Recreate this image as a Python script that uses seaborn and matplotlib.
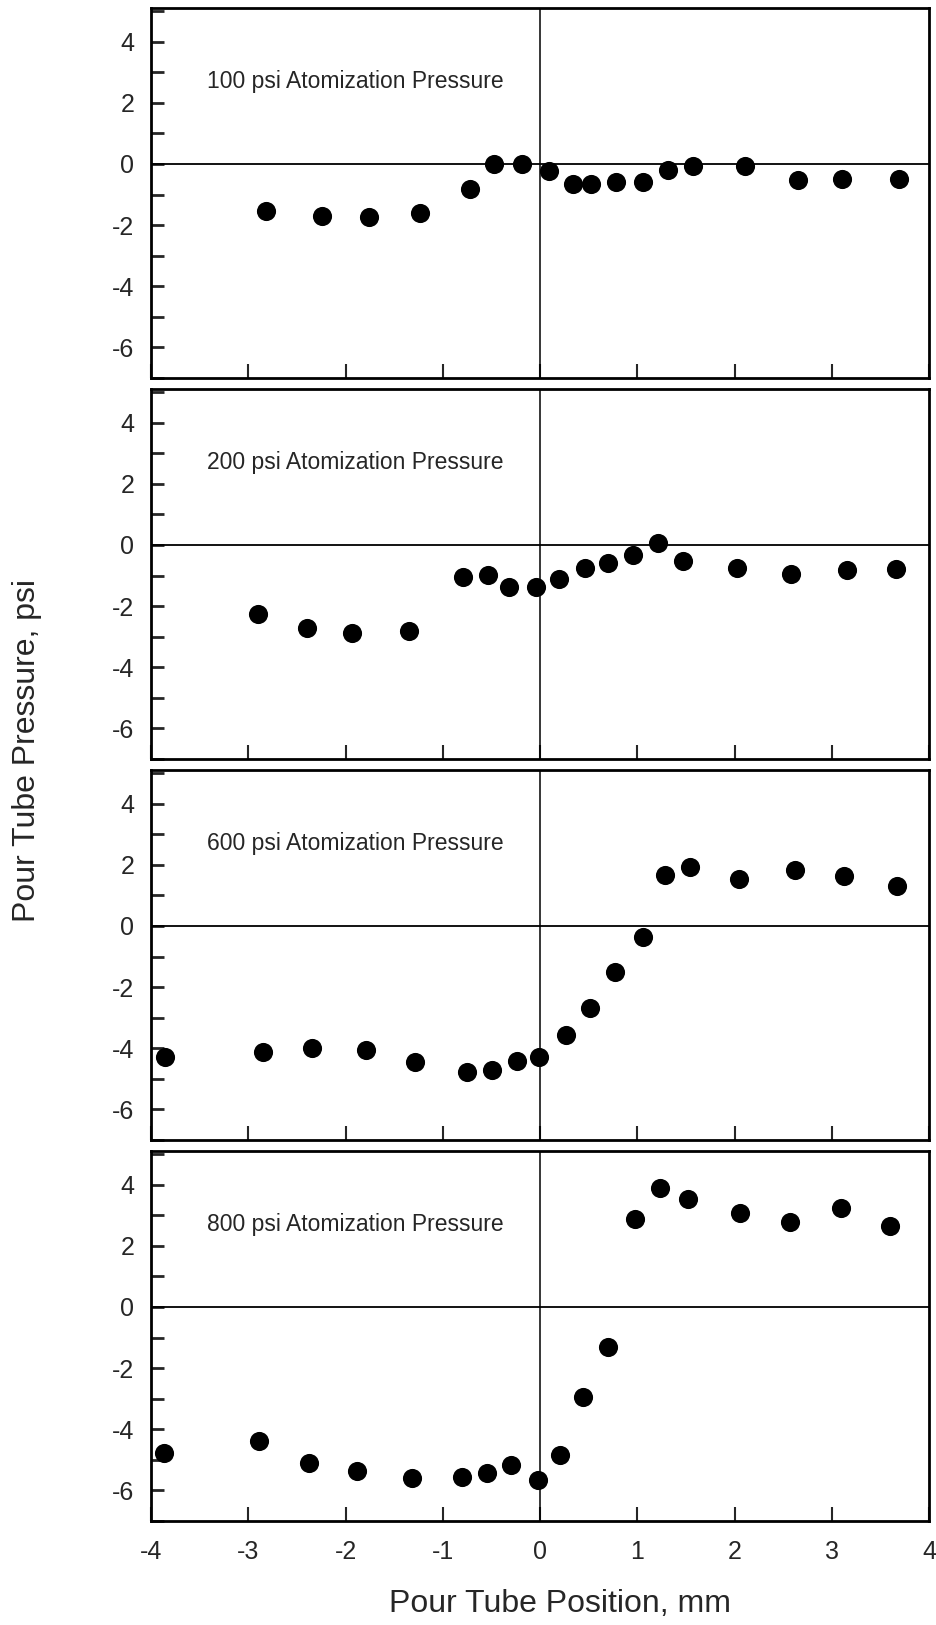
import matplotlib
matplotlib.use("Agg")
import matplotlib.pyplot as plt
import seaborn as sns
import pandas as pd
import numpy as np
from matplotlib.ticker import MultipleLocator

sns.set_style("white")
plt.rcParams['font.family'] = ['Liberation Sans', 'DejaVu Sans']
plt.rcParams['axes.unicode_minus'] = False

panel_labels = ["100 psi Atomization Pressure", "200 psi Atomization Pressure",
                "600 psi Atomization Pressure", "800 psi Atomization Pressure"]

x100 = [-2.82, -2.24, -1.76, -1.23, -0.72, -0.47, -0.19, 0.09, 0.34, 0.52, 0.78, 1.06, 1.32, 1.57, 2.11, 2.65, 3.11, 3.69]
y100 = [-1.55, -1.69, -1.73, -1.60, -0.81, 0.0, 0.0, -0.23, -0.67, -0.67, -0.60, -0.60, -0.21, -0.08, -0.08, -0.54, -0.49, -0.49]

x200 = [-2.90, -2.40, -1.93, -1.35, -0.79, -0.53, -0.32, -0.04, 0.20, 0.46, 0.70, 0.96, 1.21, 1.47, 2.03, 2.58, 3.16, 3.66]
y200 = [-2.25, -2.70, -2.88, -2.82, -1.05, -0.97, -1.36, -1.39, -1.12, -0.74, -0.60, -0.33, 0.08, -0.54, -0.74, -0.95, -0.83, -0.80]

x600 = [-3.86, -2.85, -2.34, -1.79, -1.29, -0.75, -0.49, -0.24, -0.01, 0.27, 0.51, 0.77, 1.06, 1.29, 1.54, 2.05, 2.62, 3.13, 3.67]
y600 = [-4.30, -4.12, -4.00, -4.07, -4.45, -4.78, -4.70, -4.42, -4.27, -3.58, -2.67, -1.50, -0.35, 1.65, 1.92, 1.55, 1.84, 1.62, 1.30]

x800 = [-3.87, -2.89, -2.38, -1.88, -1.32, -0.80, -0.54, -0.30, -0.02, 0.21, 0.44, 0.70, 0.98, 1.23, 1.52, 2.06, 2.57, 3.10, 3.60]
y800 = [-4.78, -4.40, -5.10, -5.38, -5.58, -5.55, -5.44, -5.16, -5.66, -4.83, -2.93, -1.32, 2.88, 3.90, 3.52, 3.07, 2.77, 3.25, 2.66]

series = [(x100, y100), (x200, y200), (x600, y600), (x800, y800)]

x_ticks = [-4, -3, -2, -1, 0, 1, 2, 3, 4]
y_ticks = [-6, -4, -2, 0, 2, 4]

W, H = 936, 1625
fig = plt.figure(figsize=(W / 100, H / 100), dpi=100)

left, right = 151, 929
top0 = 8
ph, gap = 370, 11

axes = []
for i, (lab, (xs, ys)) in enumerate(zip(panel_labels, series)):
    t = top0 + i * (ph + gap)
    ax = fig.add_axes([left / W, 1 - (t + ph) / H, (right - left) / W, ph / H])
    df = pd.DataFrame({"x": xs, "y": ys})
    ax.axhline(0, color="black", lw=1.3, zorder=1)
    ax.axvline(0, color="black", lw=1.1, zorder=1)
    sns.scatterplot(data=df, x="x", y="y", ax=ax, color="black", s=190,
                    edgecolor="black", linewidth=0, zorder=3, legend=False)
    ax.set_xlim(-4, 4)
    ax.set_ylim(-7, 5.1)
    ax.set_xticks(x_ticks)
    ax.set_yticks(y_ticks)
    ax.yaxis.set_minor_locator(MultipleLocator(1))
    ax.tick_params(axis="y", which="both", direction="in", length=9, width=2,
                   left=True, right=False, labelsize=18, pad=12)
    ax.tick_params(axis="x", which="both", direction="in", length=10, width=1.5,
                   bottom=True, top=False, labelsize=18, pad=14)
    if i < 3:
        ax.tick_params(axis="x", labelbottom=False)
    for sp in ax.spines.values():
        sp.set_linewidth(2)
        sp.set_color("black")
    ax.set_xlabel("")
    ax.set_ylabel("")
    ax.text(-3.42, 2.7, lab, fontsize=16.5, ha="left", va="center")
    axes.append(ax)

fig.text(27 / W, 1 - 751 / H, "Pour Tube Pressure, psi", rotation=90,
         ha="center", va="center", fontsize=23)
fig.text(560 / W, 1 - 1604 / H, "Pour Tube Position, mm",
         ha="center", va="center", fontsize=23)

fig.savefig("out.png", dpi=100)
